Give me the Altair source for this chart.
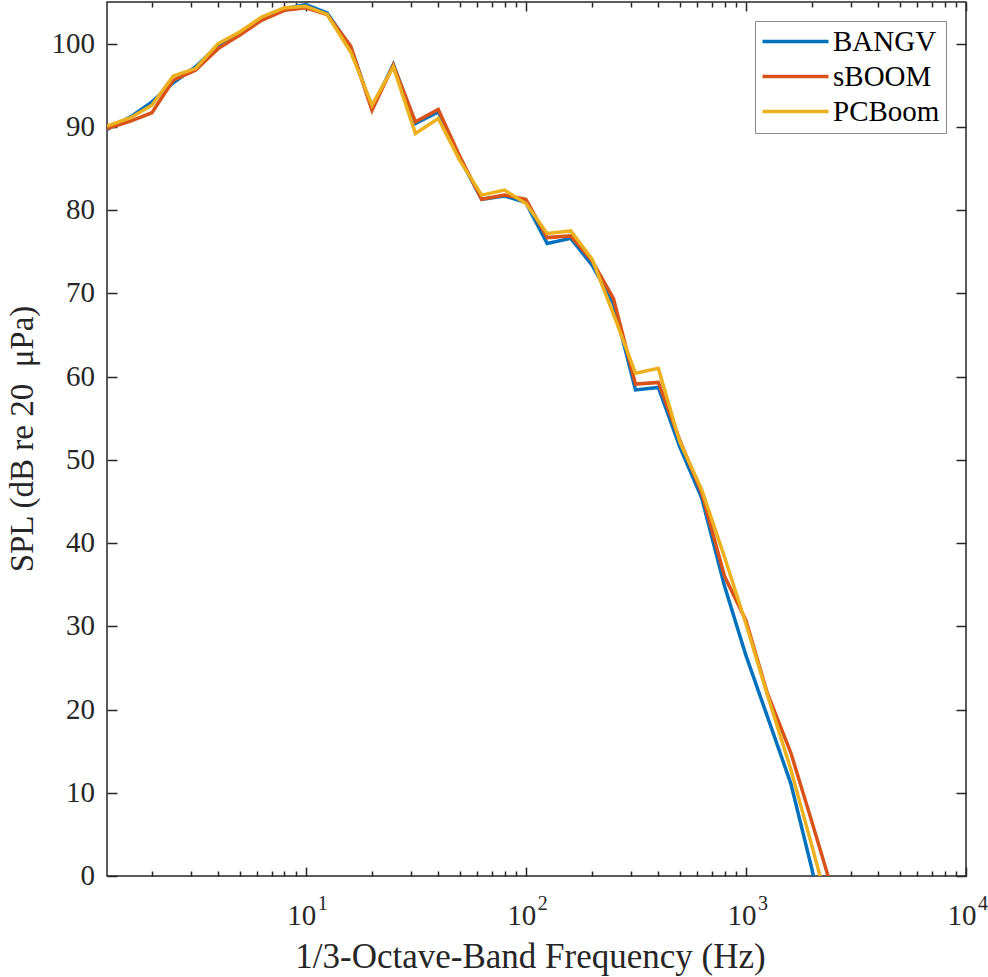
import altair as alt
import pandas as pd

freqs = [1.25, 1.6, 2, 2.5, 3.15, 4, 5, 6.3, 8, 10, 12.5, 16, 20, 25, 31.5, 40, 50, 63, 80,
         100, 125, 160, 200, 250, 315, 400, 500, 630, 800, 1000, 1250, 1600, 2000, 2500]
bangv = [89.7, 91.2, 93.0, 95.3, 97.2, 99.8, 101.2, 103.0, 104.2, 104.7, 103.7, 99.6, 92.2, 97.5,
         90.4, 91.8, 86.3, 81.3, 81.7, 80.9, 76.0, 76.6, 73.4, 68.8, 58.4, 58.7, 51.6, 45.4, 34.8,
         26.5, 19.2, 11.1, 0.7, -11.0]
sboom = [89.8, 90.7, 91.7, 95.6, 96.8, 99.4, 101.0, 102.8, 104.0, 104.3, 103.5, 99.7, 92.0, 97.4,
         90.6, 92.1, 86.5, 81.3, 81.8, 81.3, 76.7, 76.9, 73.9, 69.4, 59.1, 59.3, 52.4, 46.0, 36.0,
         30.7, 22.0, 14.8, 6.4, -2.2]
pcboom = [90.1, 91.1, 92.6, 96.1, 97.0, 100.0, 101.4, 103.2, 104.3, 104.5, 103.5, 99.0, 92.6, 97.2,
          89.2, 91.0, 86.0, 81.8, 82.4, 80.8, 77.2, 77.5, 74.1, 67.5, 60.4, 61.0, 52.2, 46.4, 38.3,
          30.3, 21.8, 12.8, 3.5, -6.0]
series_names = ["BANGV", "sBOOM", "PCBoom"]
series_colors = ["#0072BD", "#D95319", "#EDB120"]

major_x = [10, 100, 1000, 10000]
major_base = ["10", "10", "10", "10"]
exponents = ["1", "2", "3", "4"]
minor_x = [m * d for d in [1, 10, 100, 1000] for m in range(2, 10)]
y_ticks = list(range(0, 101, 10))
x_title = "1/3-Octave-Band Frequency (Hz)"
y_title = "SPL (dB re 20\u2002\u03bcPa)"

rows = []
for name, vals in zip(series_names, [bangv, sboom, pcboom]):
    for f, v in zip(freqs, vals):
        rows.append({"freq": f, "spl": v, "series": name})
df = pd.DataFrame(rows)
xlab_df = pd.DataFrame({"freq": major_x, "base": major_base, "exp": exponents})
ylab_df = pd.DataFrame({"v": y_ticks, "lab": [str(v) for v in y_ticks]})
xt_df = pd.DataFrame({"t": [x_title]})
yt_df = pd.DataFrame({"t": [y_title]})

W, H = 859, 874
FONT = "'Liberation Serif', 'Times New Roman', serif"
AX = "#262626"

xs = alt.Scale(type="log", domain=[1.25, 10000], nice=False)
ys = alt.Scale(domain=[0, 105], nice=False)
cs = alt.Scale(domain=series_names, range=series_colors)

legend = alt.Legend(orient="none", legendX=648, legendY=19, title=None,
                    symbolType="M-1.625,0H6.625", symbolSize=256, symbolStrokeWidth=3.5,
                    labelFont=FONT, labelFontSize=29, labelColor="black",
                    strokeColor="#8a8a8a", fillColor="white", padding=6,
                    rowPadding=5, labelOffset=43, labelLimit=400)

tick_common = dict(labels=False, domain=False, grid=False, tickColor=AX, tickWidth=1.5, title=None)


def line_layer(name, xaxis, yaxis):
    return alt.Chart(df).transform_filter(alt.datum.series == name).mark_line(
        clip=True, strokeWidth=3.5
    ).encode(
        x=alt.X("freq:Q", scale=xs, axis=xaxis),
        y=alt.Y("spl:Q", scale=ys, axis=yaxis),
        color=alt.Color("series:N", scale=cs, legend=legend),
    )


l1 = line_layer("BANGV",
                alt.Axis(orient="top", offset=-H, values=minor_x, tickSize=5, **tick_common),
                None)
l2 = line_layer("sBOOM",
                alt.Axis(orient="top", offset=-H, values=major_x, tickSize=9, **tick_common),
                alt.Axis(orient="right", offset=-W, values=y_ticks, tickSize=10, **tick_common))
l3 = line_layer("PCBoom",
                alt.Axis(orient="bottom", offset=-H, values=major_x, tickSize=9, **tick_common),
                alt.Axis(orient="left", offset=-W, values=y_ticks, tickSize=10, **tick_common))

m2 = alt.Chart(df).mark_line(opacity=0).encode(
    x=alt.X("freq:Q", scale=xs,
            axis=alt.Axis(orient="bottom", offset=-H, values=minor_x, tickSize=5, **tick_common)),
    y=alt.Y("spl:Q", scale=ys, axis=None),
)

xlab = alt.Chart(xlab_df).mark_text(
    font=FONT, fontSize=29, color=AX, align="center", baseline="alphabetic", dx=-4
).encode(
    x=alt.X("freq:Q", scale=xs, axis=None),
    y=alt.value(H + 49),
    text="base:N",
)
xexp = alt.Chart(xlab_df).mark_text(
    font=FONT, fontSize=20, color=AX, align="left", baseline="alphabetic", dx=12
).encode(
    x=alt.X("freq:Q", scale=xs, axis=None),
    y=alt.value(H + 34),
    text="exp:N",
)
ylab = alt.Chart(ylab_df).mark_text(
    font=FONT, fontSize=29, color=AX, align="right", baseline="middle"
).encode(
    x=alt.value(-12),
    y=alt.Y("v:Q", scale=ys, axis=None),
    text="lab:N",
)
xtitle = alt.Chart(xt_df).mark_text(
    font=FONT, fontSize=35, color=AX, align="center", baseline="alphabetic"
).encode(
    x=alt.value(W / 2 - 6),
    y=alt.value(H + 92),
    text="t:N",
)
ytitle = alt.Chart(yt_df).mark_text(
    font=FONT, fontSize=33, color=AX, align="center", baseline="alphabetic", angle=270
).encode(
    x=alt.value(-74),
    y=alt.value(H / 2),
    text="t:N",
)

chart = alt.layer(l1, l2, l3, m2, xlab, xexp, ylab, xtitle, ytitle).resolve_axis(
    x="independent", y="independent"
).properties(
    width=W, height=H,
    autosize=alt.AutoSizeParams(type="none"),
    padding={"left": 107, "top": 2, "right": 22, "bottom": 101},
    background="white",
).configure(font=FONT).configure_view(stroke=AX, strokeWidth=1.5)

chart.save("out.html", embed_options={"renderer": "svg", "actions": False})
